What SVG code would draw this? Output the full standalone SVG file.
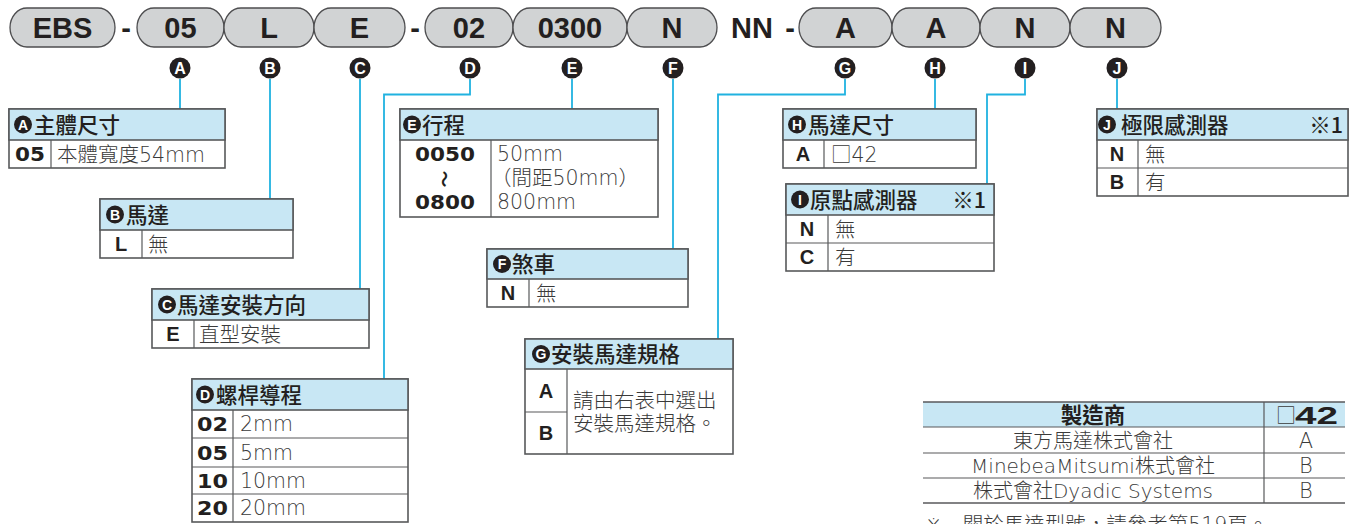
<svg xmlns="http://www.w3.org/2000/svg" width="1350" height="524" viewBox="0 0 1350 524">
<style>
.pill{fill:#d1d3d4;stroke:#4d4d4f;stroke-width:1.3}
.pt{font-family:"Liberation Sans",Arial,sans-serif;font-weight:700;font-size:29px;fill:#231f20;text-anchor:middle}
.cc{fill:#231f20}
.ct{font-family:"Liberation Sans",Arial,sans-serif;font-weight:700;font-size:16px;fill:#fff;text-anchor:middle}
.hc{font-family:"Liberation Sans",Arial,sans-serif;font-weight:700;font-size:14px;fill:#fff;text-anchor:middle}
.conn{fill:none;stroke:#20b2e0;stroke-width:1.8}
.bx{fill:#fff;stroke:#58595b;stroke-width:1.6}
.hd{fill:#c8e7f4;stroke:#58595b;stroke-width:1.6}
.ln{stroke:#58595b;stroke-width:1.2}
.ht{font-family:"Noto Sans CJK TC","Noto Sans CJK JP",sans-serif;font-size:21.5px;font-weight:500;fill:#231f20}
.rt{font-family:"DejaVu Sans","Noto Sans CJK TC","Noto Sans CJK JP",sans-serif;font-size:20.5px;font-weight:300;fill:#3a3a3a}
.cjk{font-family:"Noto Sans CJK TC","Noto Sans CJK JP",sans-serif}
.code{font-family:"DejaVu Sans",sans-serif;font-weight:700;font-size:20px;fill:#231f20;text-anchor:middle}
.codeL{font-family:"Liberation Sans",Arial,sans-serif;font-weight:700;font-size:20px;fill:#231f20;text-anchor:middle}
.mt{font-family:"DejaVu Sans","Noto Sans CJK TC","Noto Sans CJK JP",sans-serif;font-size:20px;font-weight:300;fill:#3a3a3a;text-anchor:middle}
</style>

<g id="connectors">
<path class="conn" d="M180 79V109"/>
<path class="conn" d="M270 79V199"/>
<path class="conn" d="M360 79V289"/>
<path class="conn" d="M470 79V94.5H384V379"/>
<path class="conn" d="M572 79V109"/>
<path class="conn" d="M673 79V249"/>
<path class="conn" d="M845 79V94.5H718V339"/>
<path class="conn" d="M935 79V109"/>
<path class="conn" d="M1025 79V94.5H987V184"/>
<path class="conn" d="M1117 79V109"/>
</g>

<g id="model-code">
<g id="p-ebs"><rect class="pill" x="10" y="8" width="105" height="39" rx="17" ry="19.5"/><text class="pt" x="62.5" y="38">EBS</text></g>
<text class="pt" x="126" y="38">-</text>
<g id="p-a"><rect class="pill" x="137" y="8" width="87" height="39" rx="17" ry="19.5"/><text class="pt" x="180.5" y="38">05</text></g>
<g id="p-b"><rect class="pill" x="224" y="8" width="90" height="39" rx="17" ry="19.5"/><text class="pt" x="269" y="38">L</text></g>
<g id="p-c"><rect class="pill" x="314" y="8" width="91" height="39" rx="17" ry="19.5"/><text class="pt" x="359.5" y="38">E</text></g>
<text class="pt" x="415" y="38">-</text>
<g id="p-d"><rect class="pill" x="425" y="8" width="88" height="39" rx="17" ry="19.5"/><text class="pt" x="469" y="38">02</text></g>
<g id="p-e"><rect class="pill" x="513" y="8" width="114" height="39" rx="17" ry="19.5"/><text class="pt" x="570" y="38">0300</text></g>
<g id="p-f"><rect class="pill" x="627" y="8" width="90" height="39" rx="17" ry="19.5"/><text class="pt" x="672" y="38">N</text></g>
<text class="pt" x="752" y="38">NN</text>
<text class="pt" x="790" y="38">-</text>
<g id="p-g"><rect class="pill" x="799" y="8" width="93" height="39" rx="17" ry="19.5"/><text class="pt" x="845.5" y="38">A</text></g>
<g id="p-h"><rect class="pill" x="892" y="8" width="88" height="39" rx="17" ry="19.5"/><text class="pt" x="936" y="38">A</text></g>
<g id="p-i"><rect class="pill" x="980" y="8" width="90" height="39" rx="17" ry="19.5"/><text class="pt" x="1025" y="38">N</text></g>
<g id="p-j"><rect class="pill" x="1070" y="8" width="91" height="39" rx="17" ry="19.5"/><text class="pt" x="1115.5" y="38">N</text></g>
</g>

<g id="markers">
<g id="m-a"><circle class="cc" cx="180" cy="68" r="10.5"/><text class="ct" x="180" y="73.8">A</text></g>
<g id="m-b"><circle class="cc" cx="270" cy="68" r="10.5"/><text class="ct" x="270" y="73.8">B</text></g>
<g id="m-c"><circle class="cc" cx="360" cy="68" r="10.5"/><text class="ct" x="360" y="73.8">C</text></g>
<g id="m-d"><circle class="cc" cx="470" cy="68" r="10.5"/><text class="ct" x="470" y="73.8">D</text></g>
<g id="m-e"><circle class="cc" cx="572" cy="68" r="10.5"/><text class="ct" x="572" y="73.8">E</text></g>
<g id="m-f"><circle class="cc" cx="673" cy="68" r="10.5"/><text class="ct" x="673" y="73.8">F</text></g>
<g id="m-g"><circle class="cc" cx="845" cy="68" r="10.5"/><text class="ct" x="845" y="73.8">G</text></g>
<g id="m-h"><circle class="cc" cx="935" cy="68" r="10.5"/><text class="ct" x="935" y="73.8">H</text></g>
<g id="m-i"><circle class="cc" cx="1025" cy="68" r="10.5"/><text class="ct" x="1025" y="73.8">I</text></g>
<g id="m-j"><circle class="cc" cx="1117" cy="68" r="10.5"/><text class="ct" x="1117" y="73.8">J</text></g>
</g>

<g id="table-a">
<rect class="bx" x="9" y="109" width="216" height="59"/>
<rect class="hd" x="9" y="109" width="216" height="31"/>
<line class="ln" x1="51" y1="140" x2="51" y2="168"/>
<circle class="cc" cx="23" cy="124.5" r="9"/><text class="hc" x="23" y="129.5">A</text>
<text class="ht" x="34" y="132.5">主體尺寸</text>
<text class="code" x="30" y="161" textLength="30" lengthAdjust="spacingAndGlyphs">05</text>
<text class="rt" x="57" y="161.5">本體寬度54mm</text>
</g>

<g id="table-b">
<rect class="bx" x="100" y="199" width="193" height="59"/>
<rect class="hd" x="100" y="199" width="193" height="31"/>
<line class="ln" x1="142" y1="230" x2="142" y2="258"/>
<circle class="cc" cx="115" cy="214.5" r="9"/><text class="hc" x="115" y="219.5">B</text>
<text class="ht" x="126" y="222.5">馬達</text>
<text class="codeL" x="121" y="251">L</text>
<text class="rt" x="148" y="251.5">無</text>
</g>

<g id="table-c">
<rect class="bx" x="152" y="289" width="217" height="59"/>
<rect class="hd" x="152" y="289" width="217" height="31"/>
<line class="ln" x1="194" y1="320" x2="194" y2="348"/>
<circle class="cc" cx="167" cy="304.5" r="9"/><text class="hc" x="167" y="309.5">C</text>
<text class="ht" x="177" y="312.5">馬達安裝方向</text>
<text class="codeL" x="173" y="341">E</text>
<text class="rt" x="199" y="341.5">直型安裝</text>
</g>

<g id="table-d">
<rect class="bx" x="192" y="379" width="216" height="143"/>
<rect class="hd" x="192" y="379" width="216" height="31"/>
<line class="ln" x1="233" y1="410" x2="233" y2="522"/>
<line class="ln" x1="192" y1="438" x2="408" y2="438"/>
<line class="ln" x1="192" y1="467" x2="408" y2="467"/>
<line class="ln" x1="192" y1="494" x2="408" y2="494"/>
<circle class="cc" cx="205" cy="394.5" r="9"/><text class="hc" x="205" y="399.5">D</text>
<text class="ht" x="216" y="402.5">螺桿導程</text>
<text class="code" x="212.5" y="431" textLength="31" lengthAdjust="spacingAndGlyphs">02</text>
<text class="code" x="212.5" y="459.5" textLength="31" lengthAdjust="spacingAndGlyphs">05</text>
<text class="code" x="212.5" y="487.5" textLength="31" lengthAdjust="spacingAndGlyphs">10</text>
<text class="code" x="212.5" y="515" textLength="31" lengthAdjust="spacingAndGlyphs">20</text>
<text class="rt" x="240" y="431">2mm</text>
<text class="rt" x="240" y="459.5">5mm</text>
<text class="rt" x="240" y="487.5">10mm</text>
<text class="rt" x="240" y="515">20mm</text>
</g>

<g id="table-e">
<rect class="bx" x="400" y="109" width="258" height="108"/>
<rect class="hd" x="400" y="109" width="258" height="31"/>
<line class="ln" x1="491" y1="140" x2="491" y2="217"/>
<circle class="cc" cx="412" cy="124.5" r="9"/><text class="hc" x="412" y="129.5">E</text>
<text class="ht" x="422" y="132.5">行程</text>
<text class="code" x="445" y="161" textLength="60" lengthAdjust="spacingAndGlyphs">0050</text>
<text class="cjk" x="0" y="0" transform="translate(438 179) rotate(90)" style="font-size:17px;font-weight:700;fill:#231f20;text-anchor:middle">～</text>
<text class="code" x="445" y="209" textLength="60" lengthAdjust="spacingAndGlyphs">0800</text>
<text class="rt" x="497" y="161">50mm</text>
<text class="rt" x="491" y="184.5">（間距50mm）</text>
<text class="rt" x="497" y="209">800mm</text>
</g>

<g id="table-f">
<rect class="bx" x="487" y="249" width="201" height="58"/>
<rect class="hd" x="487" y="249" width="201" height="30"/>
<line class="ln" x1="529" y1="279" x2="529" y2="307"/>
<circle class="cc" cx="502" cy="264" r="9"/><text class="hc" x="502" y="269">F</text>
<text class="ht" x="512" y="272">煞車</text>
<text class="codeL" x="508" y="300">N</text>
<text class="rt" x="536" y="300.5">無</text>
</g>

<g id="table-g">
<rect class="bx" x="525" y="339" width="208" height="115"/>
<rect class="hd" x="525" y="339" width="208" height="30"/>
<line class="ln" x1="567" y1="369" x2="567" y2="454"/>
<line class="ln" x1="525" y1="412" x2="567" y2="412"/>
<circle class="cc" cx="541" cy="354" r="9"/><text class="hc" x="541" y="359">G</text>
<text class="ht" x="551" y="362">安裝馬達規格</text>
<text class="codeL" x="546" y="398">A</text>
<text class="codeL" x="546" y="440">B</text>
<text class="rt" x="573" y="407.5">請由右表中選出</text>
<text class="rt" x="573" y="431">安裝馬達規格。</text>
</g>

<g id="table-h">
<rect class="bx" x="783" y="109" width="193" height="59"/>
<rect class="hd" x="783" y="109" width="193" height="31"/>
<line class="ln" x1="824" y1="140" x2="824" y2="168"/>
<circle class="cc" cx="797" cy="124.5" r="9"/><text class="hc" x="797" y="129.5">H</text>
<text class="ht" x="808" y="132.5">馬達尺寸</text>
<text class="codeL" x="803" y="161">A</text>
<text class="rt" x="831" y="161.5"><tspan class="cjk">□</tspan>42</text>
</g>

<g id="table-i">
<rect class="bx" x="786" y="184" width="208" height="87"/>
<rect class="hd" x="786" y="184" width="208" height="31"/>
<line class="ln" x1="828" y1="215" x2="828" y2="271"/>
<line class="ln" x1="786" y1="243" x2="994" y2="243"/>
<circle class="cc" cx="800" cy="199.5" r="9"/><text class="hc" x="800" y="204.5">I</text>
<text class="ht" x="810" y="207.5">原點感測器</text>
<text class="ht" x="986" y="207.5" text-anchor="end">※1</text>
<text class="codeL" x="807" y="236">N</text>
<text class="rt" x="835" y="236.5">無</text>
<text class="codeL" x="807" y="264">C</text>
<text class="rt" x="835" y="264.5">有</text>
</g>

<g id="table-j">
<rect class="bx" x="1097" y="109" width="251" height="87"/>
<rect class="hd" x="1097" y="109" width="251" height="31"/>
<line class="ln" x1="1138" y1="140" x2="1138" y2="196"/>
<line class="ln" x1="1097" y1="168" x2="1348" y2="168"/>
<circle class="cc" cx="1107" cy="124.5" r="9"/><text class="hc" x="1107" y="129.5">J</text>
<text class="ht" x="1121" y="132.5">極限感測器</text>
<text class="ht" x="1343" y="132.5" text-anchor="end">※1</text>
<text class="codeL" x="1117" y="161">N</text>
<text class="rt" x="1145" y="161.5">無</text>
<text class="codeL" x="1117" y="189">B</text>
<text class="rt" x="1145" y="189.5">有</text>
</g>

<g id="maker-table">
<rect x="923" y="402" width="422" height="25" fill="#c8e7f4"/>
<line x1="923" y1="402" x2="1345" y2="402" stroke="#58595b" stroke-width="1.6"/>
<line class="ln" x1="923" y1="427" x2="1345" y2="427"/>
<line class="ln" x1="923" y1="453" x2="1345" y2="453"/>
<line class="ln" x1="923" y1="478" x2="1345" y2="478"/>
<line x1="923" y1="503" x2="1345" y2="503" stroke="#58595b" stroke-width="1.6"/>
<line class="ln" x1="1264" y1="402" x2="1264" y2="503"/>
<text class="ht" x="1093" y="422.5" text-anchor="middle" style="font-weight:700">製造商</text>
<text x="1276" y="423" style="font-family:'Noto Sans CJK TC','Noto Sans CJK JP',sans-serif;font-size:20px;font-weight:300;fill:#3a3a3a">□</text>
<text x="1295" y="423.5" textLength="43" lengthAdjust="spacingAndGlyphs" style="font-family:'Liberation Sans',Arial,sans-serif;font-size:23px;font-weight:700;fill:#231f20">42</text>
<text class="mt" x="1093" y="447.5">東方馬達株式會社</text>
<text class="mt" x="1093" y="473">MinebeaMitsumi株式會社</text>
<text class="mt" x="1093" y="498">株式會社Dyadic Systems</text>
<text class="mt" x="1306" y="447.5" style="font-size:21px">A</text>
<text class="mt" x="1306" y="473" style="font-size:21px">B</text>
<text class="mt" x="1306" y="498" style="font-size:21px">B</text>
<text class="rt" x="925" y="532">※　關於馬達型號，請參考第519頁。</text>
</g>
</svg>
